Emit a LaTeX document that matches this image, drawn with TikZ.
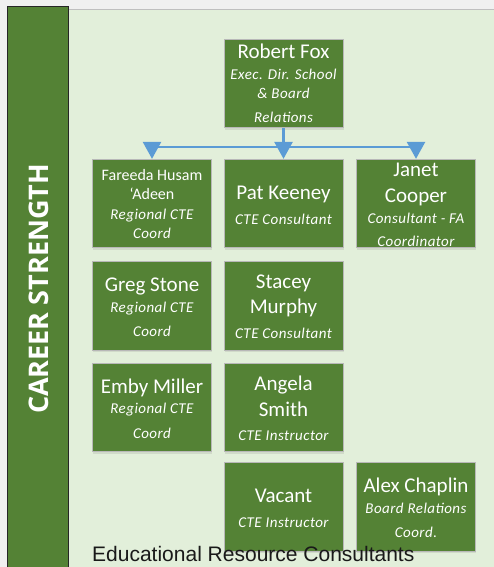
\documentclass[tikz,border=0pt]{standalone}
\usepackage{fontspec}
\setmainfont{Carlito}
\newfontfamily\osb{Open Sans}
\newfontfamily\arialf{Liberation Sans}
\usetikzlibrary{arrows.meta,shadows}
\definecolor{boxgreen}{HTML}{548235}
\definecolor{panel}{HTML}{E2EFDA}
\definecolor{outer}{HTML}{F0F0F0}
\definecolor{conn}{HTML}{5B9BD5}
\definecolor{boxline}{HTML}{B8B8B8}
\tikzset{
  pbox/.style={rectangle, fill=boxgreen, draw=boxline, line width=0.8pt,
    minimum width=119pt, minimum height=88.5pt, inner sep=0pt,
    drop shadow={opacity=0.18, shadow xshift=0.5pt, shadow yshift=-2pt}},
  nm/.style={anchor=base, inner sep=0pt, text=white, font=\fontsize{21}{24}\selectfont},
  sm/.style={anchor=base, inner sep=0pt, text=white, font=\fontsize{16}{18}\selectfont},
  ttl/.style={anchor=base, inner sep=0pt, text=white, font=\addfontfeature{LetterSpace=3}\fontsize{15}{17}\selectfont\itshape},
  connl/.style={draw=conn, line width=2.6pt, -{Triangle[width=18pt,length=17pt]}}
}
\begin{document}
\begin{tikzpicture}[x=1pt,y=-1pt]
\useasboundingbox (0,0) rectangle (494,567);
\fill[outer] (0,0) rectangle (494,567);
\fill[panel] (68,10) rectangle (494,567);
\draw[black!25, line width=1pt] (68,10) -- (494,10);
\draw[fill=boxgreen, draw=black!85, line width=1pt] (7,580) -- (7,7) -- (68,7) -- (68,580);
\node[rotate=90, text=white, inner sep=0pt, font=\osb\bfseries\fontsize{27}{30}\selectfont] (cs) at (38.5,289) {CAREER STRENGTH};

% boxes
\node[pbox] (rf) at (283.5,83.5) {};
\node[pbox] (fh) at (152,203.5) {};
\node[pbox] (pk) at (283.5,203.5) {};
\node[pbox] (jc) at (416,203.5) {};
\node[pbox] (gs) at (152,306) {};
\node[pbox] (sm) at (283.5,306) {};
\node[pbox] (em) at (152,407.5) {};
\node[pbox] (as) at (283.5,407.5) {};
\node[pbox] (va) at (283.5,507) {};
\node[pbox] (ac) at (416,507) {};

% connectors
\coordinate (jn) at (283.5,147);
\draw[connl] (rf.south) -- (pk.north);
\draw[connl] (jn) -| (fh.north);
\draw[connl] (jn) -| (jc.north);

% texts
\node[nm] (rf1) at (283.5,59) {Robert Fox};
\node[ttl] (rf2) at (283.5,80) {Exec. Dir. School};
\node[ttl] (rf3) at (283.5,99) {\& Board};
\node[ttl] (rf4) at (283.5,123) {Relations};

\node[sm] (fh1) at (152,180) {Fareeda Husam};
\node[sm] (fh2) at (152,199) {‘Adeen};
\node[ttl] (fh3) at (152,219) {Regional CTE};
\node[ttl] (fh4) at (152,238) {Coord};

\node[nm] (pk1) at (283.5,199) {Pat Keeney};
\node[ttl] (pk2) at (283.5,224) {CTE Consultant};

\node[nm] (jc1) at (416,176) {Janet};
\node[nm] (jc2) at (416,202) {Cooper};
\node[ttl] (jc3) at (416,223) {Consultant - FA};
\node[ttl] (jc4) at (416,246) {Coordinator};

\node[nm] (gs1) at (152,291) {Greg Stone};
\node[ttl] (gs2) at (152,312) {Regional CTE};
\node[ttl] (gs3) at (152,336) {Coord};

\node[nm] (sm1) at (283.5,288) {Stacey};
\node[nm] (sm2) at (283.5,313) {Murphy};
\node[ttl] (sm3) at (283.5,338) {CTE Consultant};

\node[nm] (em1) at (152,393) {Emby Miller};
\node[ttl] (em2) at (152,413) {Regional CTE};
\node[ttl] (em3) at (152,438) {Coord};

\node[nm] (as1) at (283.5,390) {Angela};
\node[nm] (as2) at (283.5,416) {Smith};
\node[ttl] (as3) at (283.5,440) {CTE Instructor};

\node[nm] (va1) at (283.5,502) {Vacant};
\node[ttl] (va2) at (283.5,527) {CTE Instructor};

\node[nm] (ac1) at (416,492) {Alex Chaplin};
\node[ttl] (ac2) at (416,513) {Board Relations};
\node[ttl] (ac3) at (416,537) {Coord.};

\node[anchor=base west, inner sep=0pt, text=black!90, font=\arialf\fontsize{21}{24}\selectfont] (erc) at (92,561) {Educational Resource Consultants};
\end{tikzpicture}
\end{document}
